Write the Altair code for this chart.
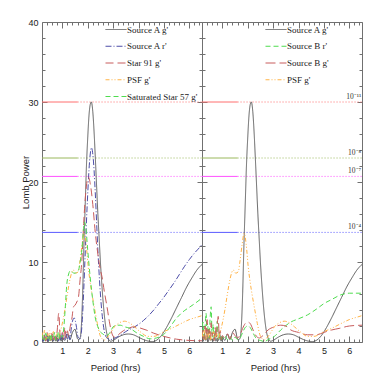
import altair as alt
import pandas as pd

# ---------------- data ----------------
SRC_A_G_X = [0.2,0.25,0.3,0.35,0.4,0.45,0.5,0.55,0.6,0.65,
             0.7,0.75,0.8,0.85,0.9,0.95,1.0,1.1,1.2,1.3,
             1.4,1.5,1.6,1.65,1.7,1.75,1.8,1.85,1.9,1.95,
             2.0,2.05,2.1,2.14,2.2,2.25,2.3,2.35,2.4,2.45,
             2.5,2.55,2.6,2.65,2.7,2.75,2.8,2.85,2.9,3.0,
             3.2,3.4,3.6,3.8,4.0,4.2,4.4,4.55,4.7,4.9,
             5.1,5.3,5.5,5.7,5.9,6.1,6.3,6.5]
SRC_A_G_Y = [0.6,0.1,0.9,0.2,0.5,0.05,0.8,0.2,0.4,0.1,
             0.7,0.1,0.5,0.2,0.9,0.1,0.6,0.2,1.0,0.3,
             1.2,1.6,0.4,0.3,0.5,2.0,6.0,12.0,17.0,22.0,
             25.5,28.3,29.7,30.0,28.8,26.3,23.0,19.5,16.0,13.0,
             10.0,7.5,5.3,3.5,2.1,1.1,0.5,0.2,0.1,0.2,
             0.6,0.9,1.0,0.9,0.6,0.3,0.1,0.05,0.2,0.8,
             1.8,3.0,4.3,5.6,6.9,8.0,9.0,9.7]

SRC_A_R_X = [0.2,0.25,0.3,0.35,0.4,0.45,0.5,0.55,0.6,0.65,
             0.7,0.75,0.8,0.85,0.9,0.95,1.0,1.05,1.1,1.15,
             1.2,1.25,1.3,1.35,1.4,1.47,1.55,1.62,1.7,1.75,
             1.8,1.85,1.9,1.95,2.0,2.05,2.1,2.15,2.2,2.25,
             2.3,2.35,2.4,2.45,2.5,2.55,2.6,2.65,2.7,2.8,
             2.9,3.0,3.2,3.4,3.6,3.8,4.0,4.2,4.4,4.6,
             4.8,5.0,5.2,5.4,5.6,5.8,6.0,6.2,6.4,6.5]
SRC_A_R_Y = [0.4,0.1,0.7,0.2,0.9,0.1,0.5,0.3,0.8,0.1,
             0.4,0.2,0.9,0.1,0.6,0.2,1.1,0.3,0.5,1.2,
             0.4,1.0,0.3,1.6,2.6,3.0,2.0,0.6,0.4,1.2,
             3.5,7.0,11.0,15.0,18.5,21.5,23.5,24.3,23.5,21.5,
             18.5,15.0,11.5,8.5,6.0,4.0,2.5,1.4,0.8,0.4,
             0.3,0.4,0.7,1.1,1.5,1.8,2.2,2.7,3.3,4.0,
             4.8,5.6,6.5,7.4,8.4,9.4,10.3,11.1,11.8,12.2]

STAR91_X = [0.2,0.25,0.3,0.35,0.4,0.45,0.5,0.55,0.6,0.65,
            0.7,0.75,0.8,0.86,0.92,1.0,1.05,1.1,1.15,1.2,
            1.25,1.31,1.38,1.44,1.5,1.57,1.64,1.7,1.77,1.84,
            1.9,1.96,2.03,2.1,2.2,2.3,2.4,2.5,2.56,2.66,
            2.76,2.85,2.95,3.05,3.2,3.4,3.6,3.8,4.0,4.3,
            4.6,5.0,5.5,6.0,6.5]
STAR91_Y = [1.0,0.3,0.8,0.1,1.2,0.4,0.6,0.2,1.3,0.3,
            0.9,0.2,1.5,3.6,0.6,1.2,0.3,1.8,0.5,1.4,
            0.8,1.9,3.0,4.4,4.6,5.0,5.7,7.8,10.2,14.8,
            17.8,19.8,20.6,19.8,17.2,13.6,11.0,9.0,8.2,6.2,
            4.4,2.6,1.1,0.6,0.9,1.4,1.7,1.9,1.8,1.5,
            1.1,0.7,0.35,0.2,0.15]

SAT57_X = [0.2,0.25,0.3,0.35,0.4,0.45,0.5,0.55,0.6,0.65,
           0.7,0.75,0.8,0.85,0.9,0.95,1.0,1.05,1.1,1.18,
           1.25,1.31,1.38,1.45,1.51,1.58,1.64,1.7,1.77,1.82,
           1.87,1.93,2.0,2.1,2.2,2.3,2.4,2.49,2.6,2.7,
           2.8,2.9,3.0,3.15,3.28,3.45,3.67,3.9,4.2,4.46,
           4.7,4.98,5.2,5.5,5.8,6.03,6.3,6.5]
SAT57_Y = [0.3,0.9,0.2,1.1,0.4,0.7,0.1,1.0,0.3,0.6,
           1.2,0.2,0.5,1.3,0.4,0.8,0.6,1.5,3.5,7.3,
           8.5,8.9,8.8,8.6,8.6,8.8,9.0,10.0,11.5,13.5,
           15.0,14.2,11.5,8.0,5.2,3.0,1.9,1.3,1.0,0.8,
           0.9,1.3,1.9,2.1,2.1,1.9,1.7,1.2,0.7,0.4,
           0.5,0.9,1.7,3.0,3.9,4.4,5.0,5.5]

PSF_X = [0.2,0.25,0.3,0.35,0.4,0.45,0.5,0.55,0.6,0.65,
         0.7,0.75,0.8,0.85,0.9,0.97,1.03,1.1,1.2,1.3,
         1.43,1.53,1.63,1.7,1.78,1.86,1.94,2.02,2.1,2.18,
         2.28,2.38,2.48,2.57,2.66,2.75,2.85,2.95,3.05,3.2,
         3.44,3.64,3.84,4.1,4.36,4.6,5.0,5.3,5.67,6.0,
         6.3,6.5]
PSF_Y = [1.2,0.4,1.5,0.3,1.1,0.6,1.4,0.2,0.9,1.3,
         0.3,0.8,1.1,0.4,1.0,1.9,2.8,4.0,6.0,7.8,
         9.0,8.6,8.8,10.2,12.2,13.6,12.2,9.4,7.4,5.8,
         4.0,2.3,0.9,0.4,0.25,0.5,0.9,1.4,1.9,2.3,
         2.6,2.4,1.9,1.2,0.7,0.7,1.3,1.7,2.3,2.8,
         3.1,3.3]

SRC_B_R_X = [0.2,0.24,0.28,0.32,0.36,0.4,0.44,0.48,0.52,0.56,
             0.6,0.64,0.68,0.72,0.76,0.8,0.84,0.88,0.92,0.96,
             1.0,1.1,1.2,1.3,1.4,1.5,1.6,1.7,1.8,1.9,
             2.0,2.1,2.2,2.3,2.4,2.5,2.66,2.8,3.05,3.3,
             3.7,4.0,4.36,4.7,5.0,5.3,5.67,6.0,6.3,6.5]
SRC_B_R_Y = [1.0,2.5,0.3,1.8,3.6,0.5,2.0,0.4,3.0,4.4,
             0.6,2.2,0.3,1.5,0.8,2.6,0.4,1.2,0.3,0.9,
             0.4,0.8,0.3,0.7,0.2,0.6,0.3,0.5,1.2,1.8,
             2.0,1.8,1.2,0.6,0.3,0.2,0.05,0.3,0.7,1.5,
             2.5,2.9,3.4,4.1,4.8,5.3,5.9,6.1,6.1,6.1]

SRC_B_G_X = [0.2,0.24,0.28,0.32,0.36,0.4,0.44,0.48,0.52,0.56,
             0.6,0.64,0.68,0.72,0.76,0.8,0.84,0.88,0.92,0.96,
             1.0,1.1,1.2,1.3,1.4,1.5,1.6,1.7,1.8,1.9,
             2.0,2.1,2.2,2.3,2.46,2.6,2.8,3.05,3.3,3.5,
             3.7,4.0,4.36,4.7,5.0,5.3,5.6,6.0,6.5]
SRC_B_G_Y = [0.5,1.5,0.3,2.0,0.6,2.8,0.4,1.6,0.3,2.4,
             0.7,1.2,0.2,1.8,0.4,2.2,3.2,0.5,1.4,0.3,
             0.8,0.5,1.0,0.4,1.2,0.8,0.5,0.9,1.7,2.3,
             2.5,2.3,1.6,0.9,0.5,0.8,1.5,1.9,2.1,2.0,
             1.5,1.2,0.9,0.9,1.2,1.5,1.7,2.0,2.1]

LEFT_SERIES = ["Source A g'", "Source A r'", "Star 91 g'", "PSF g'", "Saturated Star 57 g'"]
RIGHT_SERIES = ["Source A g'", "Source B r'", "Source B g'", "PSF g'"]

THRESH_POWER = [30.0, 23.0, 20.7, 13.7]
THRESH_LABEL = ["10\u207b\u00b9\u00b9", "10\u207b\u2078", "10\u207b\u2077", "10\u207b\u2074"]

X_MAJOR = [1, 2, 3, 4, 5, 6]
Y_MAJOR = [0, 10, 20, 30, 40]

# ---------------- styling ----------------
THRESH_COLOR = ["#ff6e6e", "#9ab85c", "#ff50ff", "#5a5aff"]
LEFT_COLORS = ["#5a5a5a", "#4d4da8", "#c85c5c", "#ffb347", "#4fdc4f"]
LEFT_DASHES = [[1, 0], [6, 2, 1, 2], [8, 4], [4, 2, 1, 2, 1, 2], [5, 3]]
RIGHT_COLORS = ["#5a5a5a", "#4fdc4f", "#c85c5c", "#ffb347"]
RIGHT_DASHES = [[1, 0], [5, 3], [10, 4], [4, 2, 1, 2, 1, 2]]

X_DOMAIN = [0.2, 6.5]
Y_DOMAIN = [0, 40]
SPLIT = 1.6
X_MINOR = [round(0.2 * i, 1) for i in range(2, 33) if i % 5 != 0]
Y_MINOR = [v for v in range(2, 40, 2) if v % 10 != 0]
TICK = "#707070"


def frame(pairs):
    return pd.concat(
        [pd.DataFrame({"period": x, "power": y, "series": n}) for n, x, y in pairs],
        ignore_index=True,
    )


left_df = frame([
    (LEFT_SERIES[0], SRC_A_G_X, SRC_A_G_Y),
    (LEFT_SERIES[1], SRC_A_R_X, SRC_A_R_Y),
    (LEFT_SERIES[2], STAR91_X, STAR91_Y),
    (LEFT_SERIES[3], PSF_X, PSF_Y),
    (LEFT_SERIES[4], SAT57_X, SAT57_Y),
])
right_df = frame([
    (RIGHT_SERIES[0], SRC_A_G_X, SRC_A_G_Y),
    (RIGHT_SERIES[1], SRC_B_R_X, SRC_B_R_Y),
    (RIGHT_SERIES[2], SRC_B_G_X, SRC_B_G_Y),
    (RIGHT_SERIES[3], PSF_X, PSF_Y),
])
thr_df = pd.DataFrame({"power": THRESH_POWER, "label": THRESH_LABEL, "tcolor": THRESH_COLOR})

xs = alt.Scale(domain=X_DOMAIN, nice=False, zero=False)
ys = alt.Scale(domain=Y_DOMAIN, nice=False, zero=False)


def tick_axis(orient, values, size):
    return alt.Axis(orient=orient, values=values, tickSize=size, offset=-size,
                    labels=False, domain=False, grid=False, title=None,
                    ticks=True, tickColor=TICK, tickWidth=1)


def panel(df, names, colors, dashes, y_labels, thr_labels):
    if y_labels:
        y_lab = alt.Axis(orient="left", values=Y_MAJOR, ticks=False, tickSize=0,
                         domain=False, grid=False, labelPadding=4,
                         title="Lomb Power", titleX=-17, titleY=160, titleAngle=270,
                         titleAlign="center", titleBaseline="middle")
    else:
        y_lab = None
    x_lab = alt.Axis(orient="bottom", values=X_MAJOR, ticks=False, tickSize=0,
                     domain=False, grid=False, labelPadding=4,
                     title="Period (hrs)", titleX=73, titleY=25,
                     titleAlign="center", titleBaseline="middle")
    axis_sets = [
        (x_lab, y_lab),
        (tick_axis("bottom", X_MAJOR, 6), tick_axis("left", Y_MAJOR, 5)),
        (tick_axis("bottom", X_MINOR, 3), tick_axis("left", Y_MINOR, 3)),
        (tick_axis("top", X_MAJOR, 6), tick_axis("right", Y_MAJOR, 5)),
        (tick_axis("top", X_MINOR, 3), tick_axis("right", Y_MINOR, 3)),
    ]
    layers = []
    for ax_x, ax_y in axis_sets:
        layers.append(
            alt.Chart(thr_df).mark_point(opacity=0, size=1).encode(
                x=alt.XDatum(1.0, scale=xs, axis=ax_x),
                y=alt.Y("power:Q", scale=ys, axis=ax_y),
            )
        )
    layers.append(
        alt.Chart(thr_df).mark_rule(strokeWidth=1).encode(
            y=alt.Y("power:Q", scale=ys, axis=None),
            x=alt.XDatum(X_DOMAIN[0], scale=xs, axis=None),
            x2=alt.X2Datum(SPLIT),
            stroke=alt.Stroke("tcolor:N", scale=None),
        )
    )
    layers.append(
        alt.Chart(thr_df).mark_rule(strokeWidth=1, strokeDash=[1, 2]).encode(
            y=alt.Y("power:Q", scale=ys, axis=None),
            x=alt.XDatum(SPLIT, scale=xs, axis=None),
            x2=alt.X2Datum(X_DOMAIN[1]),
            stroke=alt.Stroke("tcolor:N", scale=None),
        )
    )
    if thr_labels:
        layers.append(
            alt.Chart(thr_df).mark_text(align="right", baseline="bottom", dy=-1,
                                        font="Liberation Serif", fontSize=7.5,
                                        color="#333").encode(
                x=alt.XDatum(6.47, scale=xs, axis=None),
                y=alt.Y("power:Q", scale=ys, axis=None),
                text="label:N",
            )
        )
    legend = alt.Legend(orient="none", legendX=63, legendY=-3.5, title=None,
                        symbolType="stroke", symbolSize=441, symbolStrokeWidth=1,
                        rowPadding=0.75, labelFont="Liberation Serif",
                        labelFontSize=9, labelColor="#222", labelOffset=0,
                        labelLimit=300, padding=0)
    layers.append(
        alt.Chart(df).mark_line(strokeWidth=1, interpolate="monotone", clip=True).encode(
            x=alt.X("period:Q", scale=xs, axis=None),
            y=alt.Y("power:Q", scale=ys, axis=None),
            color=alt.Color("series:N", scale=alt.Scale(domain=names, range=colors),
                            legend=legend, sort=names),
            strokeDash=alt.StrokeDash("series:N", scale=alt.Scale(domain=names, range=dashes),
                                      legend=legend, sort=names),
        )
    )
    return alt.layer(*layers).resolve_axis(x="independent", y="independent").properties(
        width=160, height=320)


left = panel(left_df, LEFT_SERIES, LEFT_COLORS, LEFT_DASHES, True, False)
right = panel(right_df, RIGHT_SERIES, RIGHT_COLORS, RIGHT_DASHES, False, True)

chart = (
    alt.hconcat(left, right, spacing=0, bounds="flush")
    .resolve_scale(color="independent", strokeDash="independent")
    .resolve_legend(color="independent", strokeDash="independent")
    .properties(padding={"left": 11, "top": 9, "right": 4, "bottom": 4})
    .configure_view(stroke="#707070", strokeWidth=1)
    .configure_axis(labelFont="Liberation Sans", labelFontSize=9, labelColor="#222",
                    titleFont="Liberation Sans", titleFontSize=9.5,
                    titleFontWeight="normal", titleColor="#222", tickColor=TICK)
)

chart.save("out.html", embed_options={"renderer": "svg", "actions": False})
